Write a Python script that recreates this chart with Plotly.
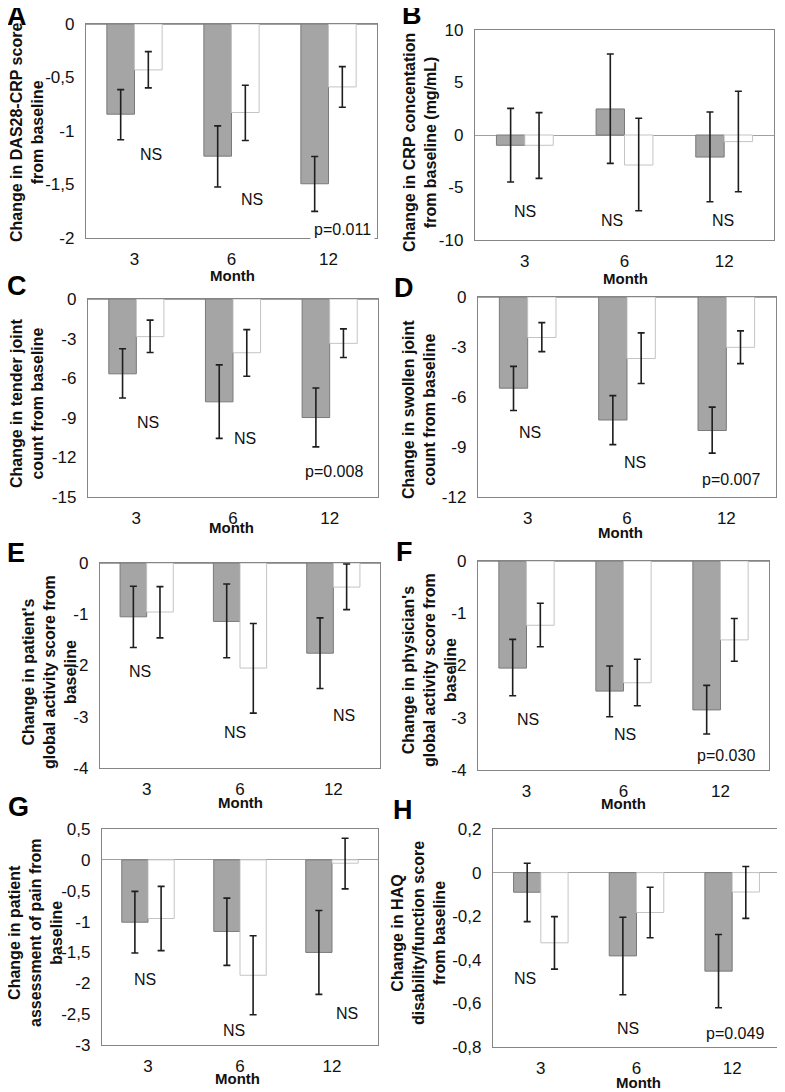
import plotly.graph_objects as go

W, H = 785, 1092          # reference picture size
OFF = 8                   # page body margin of the browser
FW, FH = W - OFF, H - OFF  # figure size so it fits the window exactly
months = ["3", "6", "12"]

# ---------------- data (bar value, upper error end, lower error end) ----------------
# A: DAS28-CRP
a_gray = [-0.843, -1.235, -1.493]
a_gray_hi = [-0.613, -0.952, -1.238]
a_gray_lo = [-1.082, -1.524, -1.751]
a_white = [-0.429, -0.827, -0.588]
a_white_hi = [-0.258, -0.572, -0.398]
a_white_lo = [-0.597, -1.089, -0.778]
a_ticks = [0, -0.5, -1, -1.5, -2]
a_ticktext = ["0", "-0,5", "-1", "-1,5", "-2"]

# B: CRP
b_gray = [-0.98, 2.48, -2.10]
b_gray_hi = [2.54, 7.71, 2.19]
b_gray_lo = [-4.48, -2.70, -6.35]
b_white = [-0.98, -2.86, -0.63]
b_white_hi = [2.13, 1.59, 4.16]
b_white_lo = [-4.13, -7.21, -5.40]
b_ticks = [10, 5, 0, -5, -10]
b_ticktext = ["10", "5", "0", "-5", "-10"]

# C: tender joint count
c_gray = [-5.67, -7.79, -8.98]
c_gray_hi = [-3.77, -4.99, -6.74]
c_gray_lo = [-7.50, -10.56, -11.20]
c_white = [-2.85, -4.07, -3.36]
c_white_hi = [-1.60, -2.32, -2.26]
c_white_lo = [-4.05, -5.85, -4.43]
c_ticks = [0, -3, -6, -9, -12, -15]
c_ticktext = ["0", "-3", "-6", "-9", "-12", "-15"]

# D: swollen joint count
d_gray = [-5.47, -7.38, -8.01]
d_gray_hi = [-4.16, -5.92, -6.61]
d_gray_lo = [-6.81, -8.86, -9.37]
d_white = [-2.43, -3.69, -3.02]
d_white_hi = [-1.54, -2.15, -2.03]
d_white_lo = [-3.28, -5.19, -4.00]
d_ticks = [0, -3, -6, -9, -12]
d_ticktext = ["0", "-3", "-6", "-9", "-12"]

# E: patient's global activity
e_gray = [-1.05, -1.14, -1.76]
e_gray_hi = [-0.455, -0.41, -1.07]
e_gray_lo = [-1.65, -1.85, -2.45]
e_white = [-0.956, -2.05, -0.47]
e_white_hi = [-0.46, -1.18, -0.02]
e_white_lo = [-1.46, -2.93, -0.91]
e_ticks = [0, -1, -2, -3, -4]
e_ticktext = ["0", "-1", "-2", "-3", "-4"]

# F: physician's global activity
f_gray = [-2.05, -2.49, -2.85]
f_gray_hi = [-1.50, -2.01, -2.38]
f_gray_lo = [-2.58, -2.98, -3.31]
f_white = [-1.23, -2.33, -1.51]
f_white_hi = [-0.81, -1.88, -1.10]
f_white_lo = [-1.64, -2.77, -1.92]
f_ticks = [0, -1, -2, -3, -4]
f_ticktext = ["0", "-1", "-2", "-3", "-4"]

# G: patient assessment of pain
g_gray = [-1.01, -1.16, -1.50]
g_gray_hi = [-0.51, -0.62, -0.82]
g_gray_lo = [-1.51, -1.71, -2.18]
g_white = [-0.95, -1.87, -0.054]
g_white_hi = [-0.43, -1.23, 0.35]
g_white_lo = [-1.47, -2.51, -0.47]
g_ticks = [0.5, 0, -0.5, -1, -1.5, -2, -2.5, -3]
g_ticktext = ["0,5", "0", "-0,5", "-1", "-1,5", "-2", "-2,5", "-3"]

# H: HAQ
h_gray = [-0.090, -0.382, -0.452]
h_gray_hi = [0.043, -0.205, -0.284]
h_gray_lo = [-0.225, -0.560, -0.620]
h_white = [-0.322, -0.183, -0.089]
h_white_hi = [-0.202, -0.067, 0.028]
h_white_lo = [-0.443, -0.299, -0.210]
h_ticks = [0.2, 0, -0.2, -0.4, -0.6, -0.8]
h_ticktext = ["0,2", "0", "-0,2", "-0,4", "-0,6", "-0,8"]

# significance labels
a_notes = ["NS", "NS", "p=0.011"]
b_notes = ["NS", "NS", "NS"]
c_notes = ["NS", "NS", "p=0.008"]
d_notes = ["NS", "NS", "p=0.007"]
e_notes = ["NS", "NS", "NS"]
f_notes = ["NS", "NS", "p=0.030"]
g_notes = ["NS", "NS", "NS"]
h_notes = ["NS", "NS", "p=0.049"]

# ---------------- layout configuration (pixel positions in the reference) ----------------
panels = [
    dict(letter="A", gray=(a_gray, a_gray_hi, a_gray_lo), white=(a_white, a_white_hi, a_white_lo),
         yr=[-2, 0], tv=a_ticks, tt=a_ticktext, box=(86, 377, 24, 238),
         title="Change in DAS28-CRP score<br>from baseline", txy=(27, 133),
         mxy=(232, 275), lxy=(17, 16), notes=a_notes,
         npos=[(0.17, -1.222), (1.21, -1.64), (2.14, -1.92)]),
    dict(letter="B", gray=(b_gray, b_gray_hi, b_gray_lo), white=(b_white, b_white_hi, b_white_lo),
         yr=[-10, 10], tv=b_ticks, tt=b_ticktext, box=(475, 774, 30, 240),
         title="Change in CRP concentation<br>from baseline (mg/mL)", txy=(420, 143),
         mxy=(625, 278), lxy=(412, 15), notes=b_notes,
         npos=[(0.0, -7.33), (0.87, -8.19), (1.99, -8.19)]),
    dict(letter="C", gray=(c_gray, c_gray_hi, c_gray_lo), white=(c_white, c_white_hi, c_white_lo),
         yr=[-15, 0], tv=c_ticks, tt=c_ticktext, box=(88, 378, 299, 497),
         title="Change in tender joint<br>count from baseline", txy=(27, 403),
         mxy=(231, 528), lxy=(17, 286), notes=c_notes,
         npos=[(0.124, -9.37), (1.124, -10.57), (2.04, -13.1)]),
    dict(letter="D", gray=(d_gray, d_gray_hi, d_gray_lo), white=(d_white, d_white_hi, d_white_lo),
         yr=[-12, 0], tv=d_ticks, tt=d_ticktext, box=(478, 776, 297, 497),
         title="Change in swollen joint<br>count from baseline", txy=(419, 410),
         mxy=(620, 532), lxy=(404, 288), notes=d_notes,
         npos=[(0.02, -8.13), (1.08, -9.91), (2.05, -10.95)]),
    dict(letter="E", gray=(e_gray, e_gray_hi, e_gray_lo), white=(e_white, e_white_hi, e_white_lo),
         yr=[-4, 0], tv=e_ticks, tt=e_ticktext, box=(100, 380, 563, 768),
         title="Change in patient's<br>global activity score from<br>baseline", txy=(49, 672),
         mxy=(240, 802), lxy=(16, 553), notes=e_notes,
         npos=[(-0.07, -2.11), (0.95, -3.30), (2.11, -2.98)]),
    dict(letter="F", gray=(f_gray, f_gray_hi, f_gray_lo), white=(f_white, f_white_hi, f_white_lo),
         yr=[-4, 0], tv=f_ticks, tt=f_ticktext, box=(478, 769, 561, 770),
         title="Change in physician's<br>global activity score from<br>baseline", txy=(429, 670),
         mxy=(623, 803), lxy=(404, 552), notes=f_notes,
         npos=[(0.02, -3.04), (1.02, -3.33), (2.06, -3.73)]),
    dict(letter="G", gray=(g_gray, g_gray_hi, g_gray_lo), white=(g_white, g_white_hi, g_white_lo),
         yr=[-3, 0.5], tv=g_ticks, tt=g_ticktext, box=(102, 378, 829, 1045),
         title="Change in patient<br>assessment of pain from<br>baseline", txy=(35, 933),
         mxy=(237, 1078), lxy=(18, 807), notes=g_notes,
         npos=[(-0.03, -1.94), (0.93, -2.77), (2.16, -2.49)]),
    dict(letter="H", gray=(h_gray, h_gray_hi, h_gray_lo), white=(h_white, h_white_hi, h_white_lo),
         yr=[-0.8, 0.2], tv=h_ticks, tt=h_ticktext, box=(493, 780, 829, 1047),
         title="Change in HAQ<br>disability/function score<br>from baseline", txy=(418, 933),
         mxy=(638, 1082), lxy=(403, 810), notes=h_notes,
         npos=[(-0.17, -0.486), (0.91, -0.716), (2.03, -0.736)]),
]

FONT = "Liberation Sans, Arial, sans-serif"
FRAME = "#858585"
GRAY_FILL = "#a5a5a5"
GRAY_LINE = "#7a7a7a"
WHITE_LINE = "#c4c4c4"
ERR = "#1e1e1e"


def px(x):
    return (x - OFF) / FW


def py(y):
    return 1 - (y - OFF) / FH


fig = go.Figure()
annotations = []
layout = {}

for i, p in enumerate(panels):
    n = "" if i == 0 else str(i + 1)
    xa, ya = "x" + n, "y" + n
    x0, x1, y0, y1 = p["box"]
    for (vals, hi, lo), fill, line in ((p["gray"], GRAY_FILL, GRAY_LINE),
                                      (p["white"], "#ffffff", WHITE_LINE)):
        fig.add_trace(go.Bar(
            x=months, y=vals, xaxis=xa, yaxis=ya, showlegend=False,
            marker=dict(color=fill, line=dict(color=line, width=1)),
            error_y=dict(type="data", symmetric=False,
                         array=[h - v for h, v in zip(hi, vals)],
                         arrayminus=[v - l for v, l in zip(vals, lo)],
                         color=ERR, thickness=1.6, width=3.5),
        ))
    layout["xaxis" + n] = dict(
        domain=[px(x0), px(x1)], anchor=ya, type="category", range=[-0.5, 2.5],
        showline=True, mirror=True, linecolor=FRAME, linewidth=1.3, ticks="",
        showgrid=False, zeroline=False, fixedrange=True, ticklabelstandoff=5,
        automargin=False,
        tickfont=dict(family=FONT, size=17, color="#111"))
    layout["yaxis" + n] = dict(
        domain=[py(y1), py(y0)], anchor=xa, range=p["yr"],
        tickmode="array", tickvals=p["tv"], ticktext=p["tt"],
        showline=True, mirror=True, linecolor=FRAME, linewidth=1.3, ticks="",
        showgrid=False, zeroline=True, zerolinecolor="#a0a0a0", zerolinewidth=1.4,
        fixedrange=True, ticklabelstandoff=7, automargin=False,
        tickfont=dict(family=FONT, size=17, color="#111"))
    # axis title
    annotations.append(dict(
        text=p["title"], x=px(p["txy"][0]), y=py(p["txy"][1]), xref="paper", yref="paper",
        textangle=-90, showarrow=False, xanchor="center", yanchor="middle",
        font=dict(family=FONT, size=16, color="#111", weight="bold")))
    # Month
    annotations.append(dict(
        text="Month", x=px(p["mxy"][0]), y=py(p["mxy"][1]), xref="paper", yref="paper",
        showarrow=False, xanchor="center", yanchor="middle",
        font=dict(family=FONT, size=15, color="#111", weight="bold")))
    # panel letter
    annotations.append(dict(
        text=p["letter"], x=px(p["lxy"][0]), y=py(p["lxy"][1]), xref="paper", yref="paper",
        showarrow=False, xanchor="center", yanchor="middle",
        font=dict(family=FONT, size=27, color="#000", weight="bold")))
    # significance notes
    for j, (txt, (nx, ny)) in enumerate(zip(p["notes"], p["npos"])):
        ann = dict(text=txt, x=nx, y=ny, xref=xa, yref=ya, showarrow=False,
                   xanchor="center", yanchor="middle",
                   font=dict(family=FONT, size=16, color="#111"))
        if p["letter"] == "A" and txt.startswith("p="):
            ann.update(bgcolor="#ffffff", borderpad=3)
        annotations.append(ann)

fig.update_layout(
    template="none",
    width=FW, height=FH, margin=dict(l=0, r=0, t=0, b=0, autoexpand=False),
    paper_bgcolor="#ffffff", plot_bgcolor="#ffffff",
    barmode="group", bargap=0.43, bargroupgap=0,
    annotations=annotations, showlegend=False, **layout)

fig.write_html("out.html")
